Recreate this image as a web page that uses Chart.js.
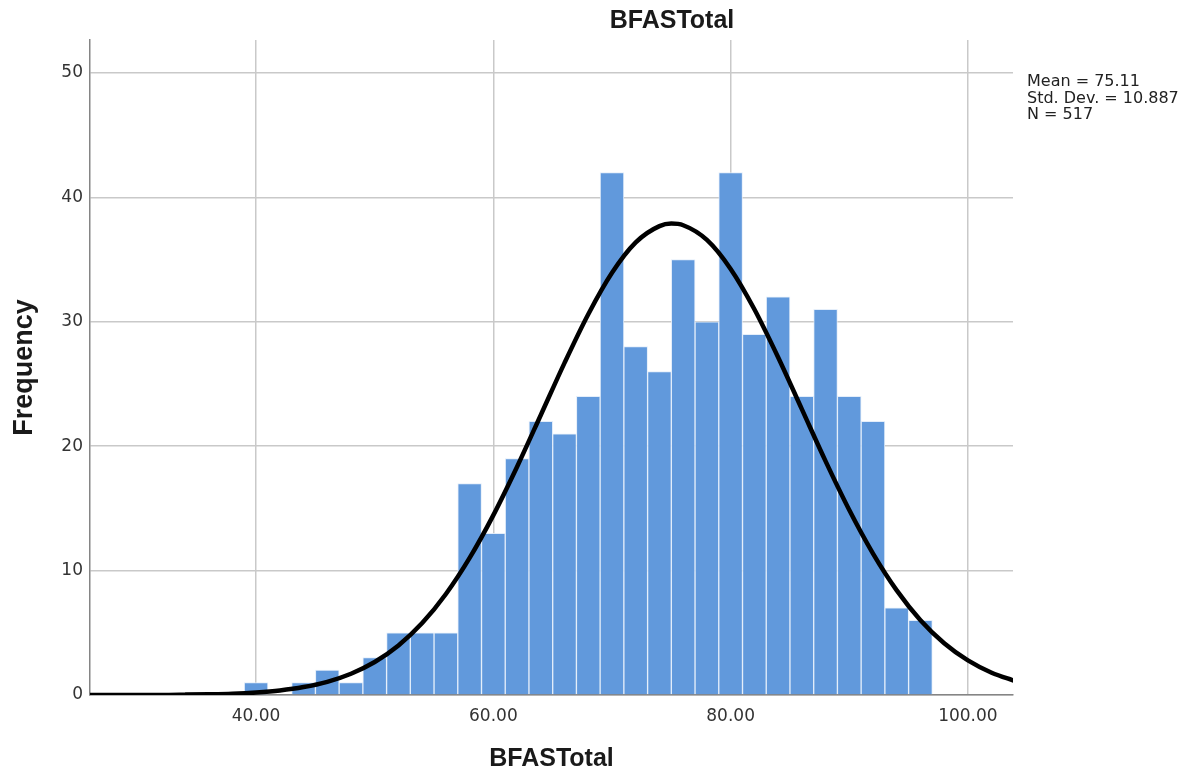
<!DOCTYPE html>
<html>
<head>
<meta charset="utf-8">
<script src="https://cdn.jsdelivr.net/npm/chart.js@4.4.1/dist/chart.umd.min.js"></script>
<style>
  html, body { margin: 0; padding: 0; background: #fff; }
  #wrap { position: relative; width: 1195px; height: 778px; }
</style>
</head>
<body>
<div id="wrap"><canvas id="histChart"></canvas></div>
<script>
// histogram bins (centre of each 2-point bin) and counts
const binCenters = [40, 42, 44, 46, 48, 50, 52, 54, 56, 58, 60, 62, 64, 66, 68,
  70, 72, 74, 76, 78, 80, 82, 84, 86, 88, 90, 92, 94, 96];
const counts = [1, 0, 1, 2, 1, 3, 5, 5, 5, 17, 13, 19, 22, 21, 24,
  42, 28, 26, 35, 30, 42, 29, 32, 24, 31, 24, 22, 7, 6];

// normal curve
const curveX = [26, 28, 30, 32, 34, 36, 38, 40, 42, 44, 46, 48, 50, 52, 54, 56, 58,
  60, 62, 64, 66, 68, 70, 72, 74, 75, 76, 78, 80, 82, 84, 86, 88, 90, 92, 94, 96,
  98, 100, 102, 104];
const curveY = [0.0, 0.0, 0.01, 0.01, 0.03, 0.06, 0.11, 0.21, 0.37, 0.64, 1.06,
  1.71, 2.65, 3.98, 5.78, 8.12, 11.02, 14.46, 18.35, 22.51, 26.70, 30.61, 33.94,
  36.38, 37.69, 37.89, 37.76, 36.58, 34.25, 31.01, 27.15, 22.98, 18.80, 14.87,
  11.37, 8.41, 6.01, 4.16, 2.78, 1.79, 1.12];

const xTicks = [40, 60, 80, 100];
const yTicks = [0, 10, 20, 30, 40, 50];

const titleText = "BFASTotal";
const xTitle = "BFASTotal";
const yTitle = "Frequency";
const statsLines = ["Mean = 75.11", "Std. Dev. = 10.887", "N = 517"];

const tickFont = { family: "'DejaVu Sans'", size: 17 };
const boldFont = "'Liberation Sans', Arial, sans-serif";

const overlayText = {
  id: "overlayText",
  afterDraw(chart) {
    const ctx = chart.ctx;
    ctx.save();
    ctx.fillStyle = "#1a1a1a";
    ctx.textAlign = "center";
    ctx.textBaseline = "alphabetic";
    ctx.font = "bold 25px " + boldFont;
    ctx.fillText(titleText, 672, 28);

    ctx.fillStyle = "#222";
    ctx.textAlign = "left";
    ctx.font = "16px 'DejaVu Sans'";
    statsLines.forEach((s, i) => ctx.fillText(s, 1027, 86 + i * 16.5));
    ctx.restore();
  },
};

function initChart() {
  const ctx = document.getElementById("histChart");

  new Chart(ctx.getContext("2d"), {
    type: "bar",
    data: {
      datasets: [
        {
          type: "line",
          data: curveX.map((x, i) => ({ x: x, y: curveY[i] })),
          borderColor: "#000",
          borderWidth: 4.5,
          pointRadius: 0,
          cubicInterpolationMode: "monotone",
          fill: false,
          order: 1,
        },
        {
          data: binCenters.map((x, i) => ({ x: x, y: counts[i] })),
          backgroundColor: "#6199dc",
          borderColor: "rgba(225,236,250,0.9)",
          borderWidth: 1,
          barPercentage: 1,
          categoryPercentage: 1,
          order: 2,
        },
      ],
    },
    options: {
      responsive: true,
      maintainAspectRatio: false,
      animation: false,
      layout: { padding: { top: 40, right: 182, left: 0, bottom: 0 } },
      plugins: { legend: { display: false }, tooltip: { enabled: false } },
      scales: {
        x: {
          type: "linear",
          min: 26,
          max: 103.8,
          offset: false,
          afterBuildTicks: (s) => { s.ticks = xTicks.map((v) => ({ value: v })); },
          afterFit: (s) => { s.height = 83; },
          ticks: {
            color: "#333",
            font: tickFont,
            padding: 11,
            maxRotation: 0,
            callback: (v) => Number(v).toFixed(2),
          },
          grid: { color: "#c9c9c9", lineWidth: 1.5, drawTicks: false, offset: false },
          border: { color: "#858585", width: 1.5 },
          title: {
            display: true,
            text: xTitle,
            color: "#1a1a1a",
            font: { family: boldFont, size: 25, weight: "bold" },
            padding: { top: 0, bottom: 4 },
          },
        },
        y: {
          min: 0,
          max: 52.65,
          afterBuildTicks: (s) => { s.ticks = yTicks.map((v) => ({ value: v })); },
          afterFit: (s) => { s.width = 90; },
          ticks: { color: "#333", font: tickFont, padding: 7 },
          grid: { color: "#c9c9c9", lineWidth: 1.5, drawTicks: false },
          border: { color: "#858585", width: 1.5 },
          title: {
            display: true,
            text: yTitle,
            color: "#1a1a1a",
            font: { family: boldFont, size: 27, weight: "bold" },
            padding: { top: 8, bottom: 0 },
          },
        },
      },
    },
    plugins: [overlayText],
  });
}

document.addEventListener("DOMContentLoaded", initChart);
</script>
</body>
</html>
